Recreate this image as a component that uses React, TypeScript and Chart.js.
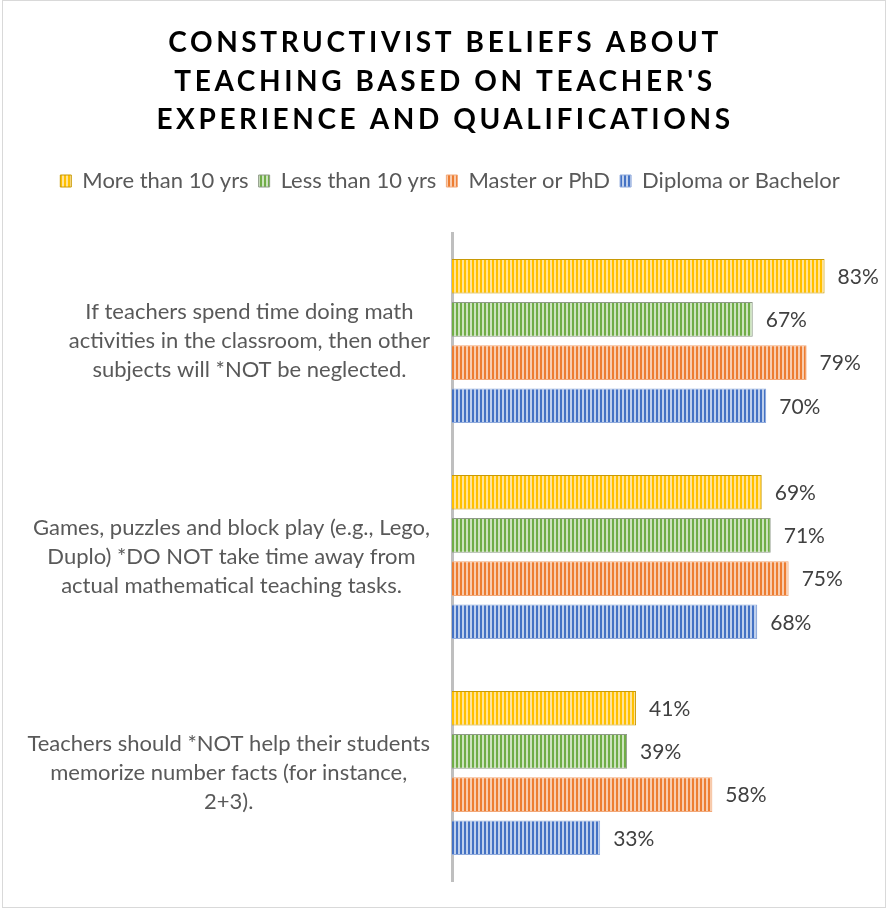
import React, { useEffect, useRef } from 'react';
import { Chart, registerables } from 'chart.js';

Chart.register(...registerables);

const FONT = 'Lato, "Open Sans", sans-serif';

const titleLines = [
  'CONSTRUCTIVIST BELIEFS ABOUT',
  "TEACHING BASED ON TEACHER'S",
  'EXPERIENCE AND QUALIFICATIONS',
];

const categories = [
  ['If teachers spend time doing math', 'activities in the classroom, then other', 'subjects will *NOT be neglected.'],
  ['Games, puzzles and block play (e.g., Lego,', 'Duplo) *DO NOT take time away from', 'actual mathematical teaching tasks.'],
  ['Teachers should *NOT help their students', 'memorize number facts (for instance,', '2+3).'],
];

const seriesNames = ['More than 10 yrs', 'Less than 10 yrs', 'Master or PhD', 'Diploma or Bachelor'];
const moreThan10 = [83, 69, 41];
const lessThan10 = [67, 71, 39];
const masterPhd = [79, 75, 58];
const diplomaBachelor = [70, 68, 33];

const seriesColors = ['#FFC000', '#70AD47', '#ED7D31', '#4472C4'];
const seriesLight = ['#FFE39A', '#CDE3BF', '#F8CCAE', '#BFD0EC'];
const seriesBorders = ['#C99A06', '#8E9A88', '#F2A878', '#8FAADC'];

function makePattern(color: string, light: string) {
  const c = document.createElement('canvas');
  c.width = 4;
  c.height = 1;
  const g = c.getContext('2d')!;
  g.fillStyle = light;
  g.fillRect(0, 0, 4, 1);
  g.fillStyle = color;
  g.fillRect(0, 0, 2, 1);
  return g.createPattern(c, 'repeat')!;
}

const framePlugin = {
  id: 'frame',
  beforeDraw(chart: any) {
    const { ctx, width, height } = chart;
    ctx.save();
    ctx.fillStyle = '#ffffff';
    ctx.fillRect(0, 0, width, height);
    ctx.strokeStyle = '#D9D9D9';
    ctx.lineWidth = 1;
    ctx.strokeRect(2.5, 0.5, width - 4, height - 1);
    ctx.restore();
  },
};

const titlePlugin = {
  id: 'spacedTitle',
  afterDraw(chart: any) {
    const { ctx } = chart;
    ctx.save();
    ctx.font = `bold 28px ${FONT}`;
    (ctx as any).letterSpacing = '3.6px';
    ctx.fillStyle = '#000000';
    ctx.textAlign = 'center';
    ctx.textBaseline = 'middle';
    const ys = [43, 82, 120];
    titleLines.forEach((line, i) => ctx.fillText(line, 445, ys[i]));
    ctx.restore();
  },
};

const categoryPlugin = {
  id: 'categoryLabels',
  afterDraw(chart: any) {
    const { ctx } = chart;
    const yScale = chart.scales.y;
    ctx.save();
    ctx.font = `22px ${FONT}`;
    ctx.fillStyle = '#595959';
    ctx.textAlign = 'center';
    ctx.textBaseline = 'middle';
    const right = 430;
    const lineH = 29;
    categories.forEach((lines, i) => {
      const cy = yScale.getPixelForValue(i);
      const maxW = Math.max(...lines.map((l) => ctx.measureText(l).width));
      const cx = right - maxW / 2;
      lines.forEach((l, j) => {
        ctx.fillText(l, cx, cy + (j - (lines.length - 1) / 2) * lineH);
      });
    });
    ctx.restore();
  },
};

const valueLabelPlugin = {
  id: 'valueLabels',
  afterDatasetsDraw(chart: any) {
    const { ctx } = chart;
    ctx.save();
    ctx.font = `21px ${FONT}`;
    ctx.fillStyle = '#404040';
    ctx.textAlign = 'left';
    ctx.textBaseline = 'middle';
    chart.data.datasets.forEach((ds: any, di: number) => {
      const meta = chart.getDatasetMeta(di);
      meta.data.forEach((bar: any, i: number) => {
        ctx.fillText(`${ds.data[i]}%`, bar.x + 13, bar.y + 1);
      });
    });
    ctx.restore();
  },
};

export default function App() {
  const ref = useRef<HTMLCanvasElement>(null);

  useEffect(() => {
    const series = [moreThan10, lessThan10, masterPhd, diplomaBachelor];
    const chart = new Chart(ref.current!, {
      type: 'bar',
      data: {
        labels: categories.map((c) => c.join(' ')),
        datasets: series.map((data, i) => ({
          label: seriesNames[i],
          data,
          backgroundColor: makePattern(seriesColors[i], seriesLight[i]),
          borderColor: seriesBorders[i],
          borderWidth: 1,
          categoryPercentage: 0.8,
          barPercentage: 0.8,
        })),
      },
      options: {
        animation: false,
        responsive: true,
        maintainAspectRatio: false,
        indexAxis: 'y',
        layout: { padding: { top: 160, bottom: 27, left: 44, right: 31 } },
        plugins: {
          title: { display: false },
          tooltip: { enabled: false },
          legend: {
            display: true,
            position: 'top',
            labels: {
              font: { family: FONT, size: 22 },
              color: '#595959',
              boxWidth: 11,
              boxHeight: 12,
              padding: 10,
            },
          },
        },
        scales: {
          x: {
            position: 'top',
            min: 0,
            max: 90,
            grid: { display: false, drawTicks: false },
            border: { display: false },
            ticks: { display: false },
            title: { display: true, text: '', font: { size: 10, lineHeight: 1 }, padding: { top: 21, bottom: 0 } },
          },
          y: {
            grid: { display: false, drawTicks: false },
            border: { display: true, color: '#BFBFBF', width: 3 },
            ticks: { display: false },
            afterFit: (s: any) => {
              s.width = 408;
            },
          },
        },
      } as any,
      plugins: [framePlugin, titlePlugin, categoryPlugin, valueLabelPlugin],
    });
    return () => chart.destroy();
  }, []);

  return (
    <div style={{ position: 'fixed', left: 0, top: 0, width: 887, height: 908 }}>
      <canvas ref={ref} />
    </div>
  );
}
